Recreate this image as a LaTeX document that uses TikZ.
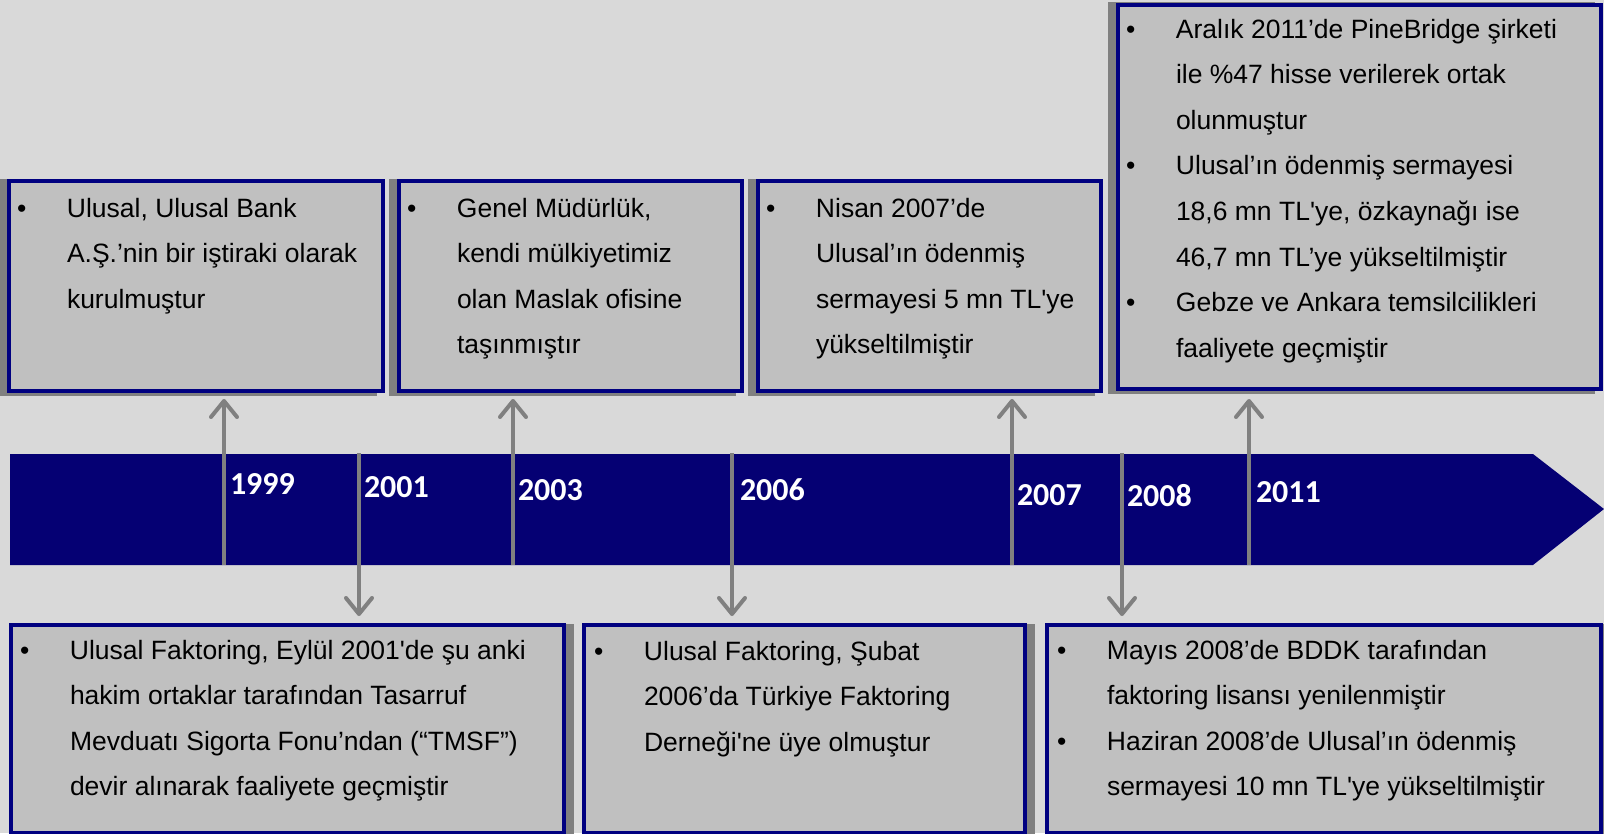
\documentclass[tikz,border=0pt]{standalone}
\usepackage{fontspec}
\setmainfont{Liberation Sans}[Ligatures=TeXOff]
\newfontfamily\yearfont{Carlito}
\usetikzlibrary{arrows.meta}
\definecolor{bgc}{RGB}{217,217,217}
\definecolor{boxc}{RGB}{192,192,192}
\definecolor{navyc}{RGB}{0,0,128}
\definecolor{barc}{RGB}{5,0,115}
\definecolor{shadc}{RGB}{128,128,128}
\definecolor{arrc}{RGB}{128,128,128}
\newcommand\bitem[1]{\hbox{\llap{\makebox[50pt][l]{•}}#1}}
\newcommand\contl[1]{\hbox{#1}}
\newcommand\lineset[1]{\vtop{\baselineskip=45.6pt\lineskiplimit=-100pt\lineskip=0pt #1}}
\tikzset{
  box/.style={draw=navyc, line width=4pt, fill=boxc, inner sep=0pt, outer sep=0pt, anchor=center},
  shade/.style={fill=shadc},
  txt/.style={anchor=base west, inner sep=0pt, outer sep=0pt, text=black, font=\fontsize{26.5pt}{45.6pt}\selectfont},
  yr/.style={anchor=base west, inner sep=0pt, outer sep=0pt, text=white, font=\yearfont\bfseries\fontsize{32pt}{38pt}\selectfont},
  arr/.style={draw=arrc, line width=4pt, -{Straight Barb[length=16pt,width=26pt,round]}}
}
\begin{document}
\begin{tikzpicture}[x=1pt,y=-1pt]
\useasboundingbox (0,0) rectangle (1604,833);
\fill[bgc] (0,0) rectangle (1604,833);

% shadows
\fill[shade] (-1,179) rectangle (377,396);
\fill[shade] (389,179) rectangle (736,396);
\fill[shade] (748,179) rectangle (1095,396);
\fill[shade] (1108,2) rectangle (1595,394);
\fill[shade] (17,624) rectangle (574,840);
\fill[shade] (590,624) rectangle (1035,840);
\fill[shade] (1053,624) rectangle (1611,840);

% top boxes
\node[box, minimum width=374pt, minimum height=210pt] (b1) at (196,286) {};
\node[box, minimum width=343pt, minimum height=210pt] (b2) at (570.5,286) {};
\node[box, minimum width=343pt, minimum height=210pt] (b3) at (929.5,286) {};
\node[box, minimum width=483pt, minimum height=384pt] (b4) at (1359.5,197) {};
% bottom boxes
\node[box, minimum width=553pt, minimum height=208pt] (c1) at (287.5,729) {};
\node[box, minimum width=441pt, minimum height=208pt] (c2) at (804.5,729) {};
\node[box, minimum width=554pt, minimum height=208pt] (c3) at (1324,729) {};

% texts
\node[txt] (t1) at (67,217) {\lineset{%
  \bitem{Ulusal, Ulusal Bank}
  \contl{A.Ş.’nin bir iştiraki olarak}
  \contl{kurulmuştur}}};
\node[txt] (t2) at (457,217) {\lineset{%
  \bitem{Genel Müdürlük,}
  \contl{kendi mülkiyetimiz}
  \contl{olan Maslak ofisine}
  \contl{taşınmıştır}}};
\node[txt] (t3) at (816,217) {\lineset{%
  \bitem{Nisan 2007’de}
  \contl{Ulusal’ın ödenmiş}
  \contl{sermayesi 5 mn TL'ye}
  \contl{yükseltilmiştir}}};
\node[txt] (t4) at (1176,38) {\lineset{%
  \bitem{Aralık 2011’de PineBridge şirketi}
  \contl{ile \%47 hisse verilerek ortak}
  \contl{olunmuştur}
  \bitem{Ulusal’ın ödenmiş sermayesi}
  \contl{18,6 mn TL'ye, özkaynağı ise}
  \contl{46,7 mn TL’ye yükseltilmiştir}
  \bitem{Gebze ve Ankara temsilcilikleri}
  \contl{faaliyete geçmiştir}}};
\node[txt] (u1) at (70,659) {\lineset{%
  \bitem{Ulusal Faktoring, Eylül 2001'de şu anki}
  \contl{hakim ortaklar tarafından Tasarruf}
  \contl{Mevduatı Sigorta Fonu’ndan (“TMSF”)}
  \contl{devir alınarak faaliyete geçmiştir}}};
\node[txt] (u2) at (644,660) {\lineset{%
  \bitem{Ulusal Faktoring, Şubat}
  \contl{2006’da Türkiye Faktoring}
  \contl{Derneği'ne üye olmuştur}}};
\node[txt] (u3) at (1107,659) {\lineset{%
  \bitem{Mayıs 2008’de BDDK tarafından}
  \contl{faktoring lisansı yenilenmiştir}
  \bitem{Haziran 2008’de Ulusal’ın ödenmiş}
  \contl{sermayesi 10 mn TL'ye yükseltilmiştir}}};

% timeline bar
\fill[barc] (10,454) -- (1533,454) -- (1604,509) -- (1533,565) -- (10,565) -- cycle;

% arrow end points
\coordinate (s1999) at (224,565); \coordinate (e1999) at (224,399);
\coordinate (s2001) at (359,453); \coordinate (e2001) at (359,616);
\coordinate (s2003) at (513,565); \coordinate (e2003) at (513,399);
\coordinate (s2006) at (732,453); \coordinate (e2006) at (732,616);
\coordinate (s2007) at (1012,565); \coordinate (e2007) at (1012,399);
\coordinate (s2008) at (1122,453); \coordinate (e2008) at (1122,616);
\coordinate (s2011) at (1249,565); \coordinate (e2011) at (1249,399);

\draw[arr] (s1999) -- (e1999);
\draw[arr] (s2001) -- (e2001);
\draw[arr] (s2003) -- (e2003);
\draw[arr] (s2006) -- (e2006);
\draw[arr] (s2007) -- (e2007);
\draw[arr] (s2008) -- (e2008);
\draw[arr] (s2011) -- (e2011);

% year labels
\node[yr] (y1999) at (230,494) {1999};
\node[yr] (y2001) at (364,497) {2001};
\node[yr] (y2003) at (518,500) {2003};
\node[yr] (y2006) at (740,500) {2006};
\node[yr] (y2007) at (1017,505) {2007};
\node[yr] (y2008) at (1127,506) {2008};
\node[yr] (y2011) at (1256,502) {2011};
\end{tikzpicture}
\end{document}
